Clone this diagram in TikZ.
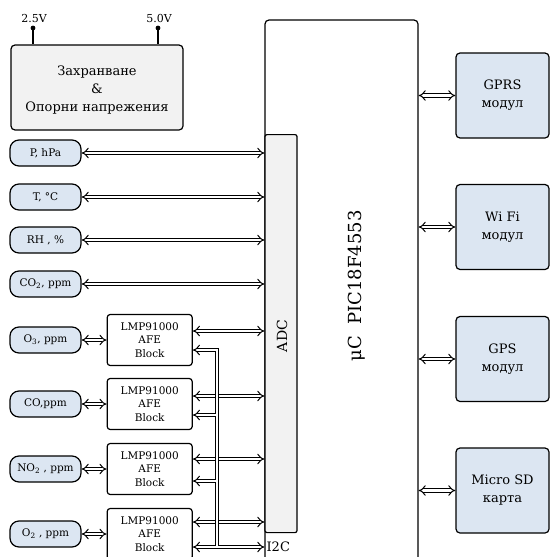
\documentclass[tikz,border=0pt]{standalone}
\usepackage{fontspec}
\setmainfont{DejaVu Serif}
\usetikzlibrary{arrows.meta, positioning, calc}
\definecolor{boxgray}{RGB}{242,242,242}
\definecolor{modblue}{RGB}{220,230,242}

\begin{document}
\begin{tikzpicture}[x=1pt, y=-1pt,
  sens/.style={rectangle, rounded corners=9pt, draw, line width=1.2pt, fill=modblue, minimum width=71pt, minimum height=26pt, inner sep=0pt, font=\fontsize{10.5}{12}\selectfont},
  afe/.style={rectangle, rounded corners=3pt, draw, line width=1.2pt, fill=white, minimum width=85pt, minimum height=51pt, align=center, font=\fontsize{10.5}{13.5}\selectfont},
  modul/.style={rectangle, rounded corners=4pt, draw, line width=1.2pt, fill=modblue, minimum width=93pt, minimum height=85pt, align=center, font=\fontsize{13}{18}\selectfont},
  tip/.tip={Implies[scale=1.5]},
  bus/.style={double, double distance=2.6pt, line width=1pt, tip-tip}
]
\useasboundingbox (0,0) rectangle (550,557);

% power supply and references
\node[draw, line width=1.2pt, fill=boxgray, rounded corners=4pt, minimum width=172pt, minimum height=85pt] (pwr) at (97,87.5) {};
\node[align=center, font=\fontsize{13}{18}\selectfont] (pwrtxt) at (97,90.5) {Захранване\\\&\\Опорни напрежения};
\coordinate (v25) at (33,28);
\coordinate (v50) at (158,28);
\draw[line width=1.5pt] (v25) -- (v25 |- pwr.north);
\draw[line width=1.5pt] (v50) -- (v50 |- pwr.north);
\fill (v25) circle (2.4pt);
\fill (v50) circle (2.4pt);
\node[font=\fontsize{11}{13}\selectfont] (l25) at (34,18) {2.5V};
\node[font=\fontsize{11}{13}\selectfont] (l50) at (159,18) {5.0V};

% microcontroller
\node[draw, line width=1.2pt, rounded corners=4pt, minimum width=153pt, minimum height=560pt] (mcu) at (341.5,300) {};
\node[draw, line width=1.2pt, fill=boxgray, rounded corners=2pt, minimum width=32pt, minimum height=398pt, anchor=north west] (adc) at (mcu.west |- 0,134) {};
\node[rotate=90, font=\fontsize{14}{16}\selectfont] (adclbl) at (282,336) {ADC};
\node[rotate=90, font=\fontsize{18}{20}\selectfont] (uc) at (357,286) {μC~~PIC18F4553};
\node[anchor=west, font=\fontsize{13}{15}\selectfont, inner sep=2pt] (i2c) at (mcu.west |- 0,547) {I2C};

% sensors
\node[sens] (p) at (45.5,153) {P, hPa};
\node[sens] (t) at (45.5,197) {T, °C};
\node[sens] (rh) at (45.5,240) {RH , \%};
\node[sens] (co2) at (45.5,284) {CO\textsubscript{2}, ppm};
\node[sens] (o3) at (45.5,340) {O\textsubscript{3}, ppm};
\node[sens] (co) at (45.5,404) {CO,ppm};
\node[sens] (no2) at (45.5,469) {NO\textsubscript{2} , ppm};
\node[sens] (o2) at (45.5,534) {O\textsubscript{2} , ppm};

% analog front ends
\node[afe, right=25pt of o3] (afe1) {LMP91000\\AFE\\Block};
\node[afe, right=25pt of co] (afe2) {LMP91000\\AFE\\Block};
\node[afe, right=25pt of no2] (afe3) {LMP91000\\AFE\\Block};
\node[afe, right=25pt of o2] (afe4) {LMP91000\\AFE\\Block};

% modules
\node[modul] (gprs) at (502.5,95.5) {GPRS\\модул};
\node[modul] (wifi) at (502.5,227) {Wi Fi\\модул};
\node[modul] (gps) at (502.5,359) {GPS\\модул};
\node[modul] (sd) at (502.5,490.5) {Micro SD\\карта};

% sensor links
\draw[bus] (p) -- (p -| adc.west);
\draw[bus] (t) -- (t -| adc.west);
\draw[bus] (rh) -- (rh -| adc.west);
\draw[bus] (co2) -- (co2 -| adc.west);
\draw[bus] (o3) -- (afe1);
\draw[bus] (co) -- (afe2);
\draw[bus] (no2) -- (afe3);
\draw[bus] (o2) -- (afe4);

% afe outputs to ADC
\draw[bus] (afe1.east |- 0,331) -- (adc.west |- 0,331);
\draw[bus] (afe2.east |- 0,396) -- (adc.west |- 0,396);
\draw[bus] (afe3.east |- 0,459) -- (adc.west |- 0,459);
\draw[bus] (afe4.east |- 0,522) -- (adc.west |- 0,522);

% I2C bus
\draw[bus, tip-] (afe1.east |- 0,350) -- (217,350) -- (217,547);
\draw[bus, tip-] (afe2.east |- 0,415) -- (217,415);
\draw[bus, tip-] (afe3.east |- 0,481) -- (217,481);
\draw[bus] (afe4.east |- 0,547) -- (mcu.west |- 0,547);
\draw[white, line width=2.6pt] (217,350) -- (217,547);

% module links
\draw[bus] (gprs.west -| mcu.east) -- (gprs.west);
\draw[bus] (wifi.west -| mcu.east) -- (wifi.west);
\draw[bus] (gps.west -| mcu.east) -- (gps.west);
\draw[bus] (sd.west -| mcu.east) -- (sd.west);
\end{tikzpicture}
\end{document}
